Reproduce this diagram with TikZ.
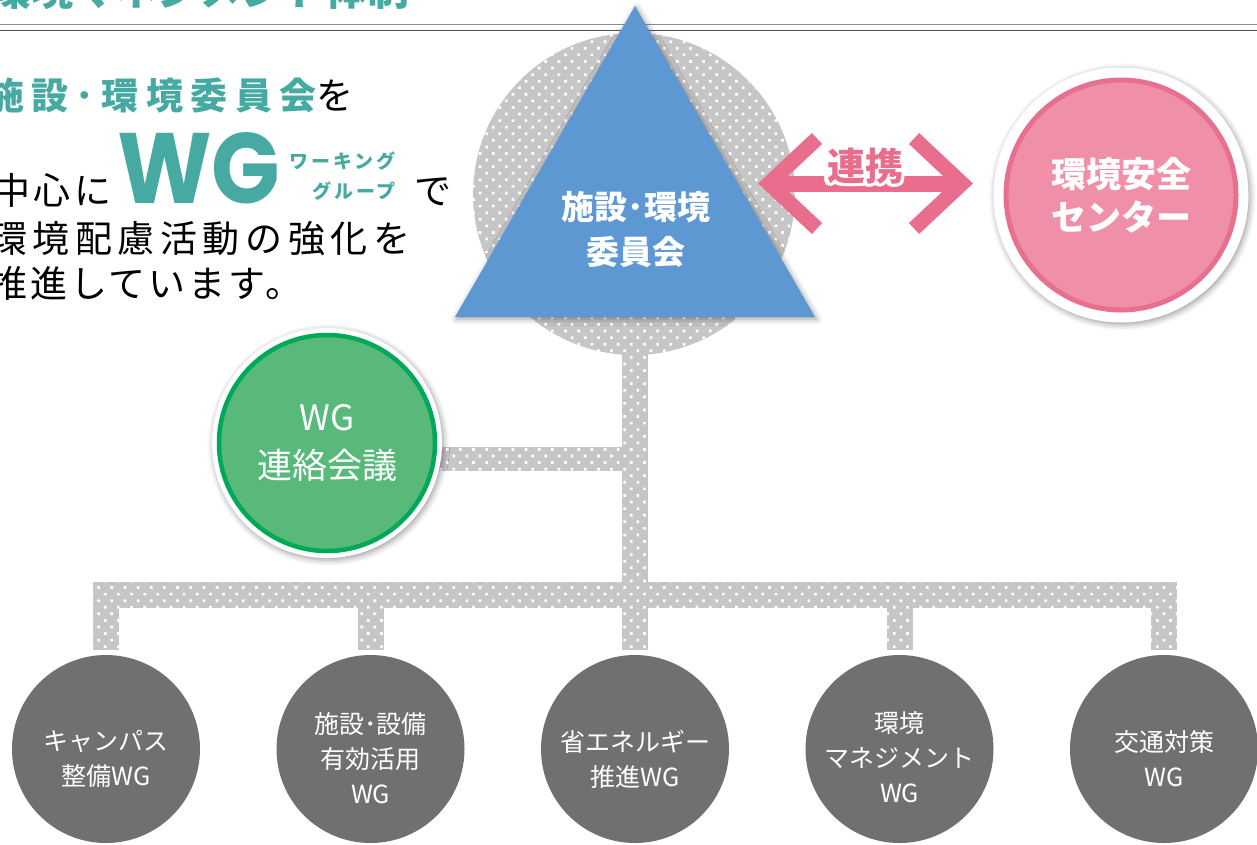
\documentclass[tikz,border=0pt]{standalone}
\usepackage{fontspec}
\usepackage{graphicx}
\setmainfont{Noto Sans CJK JP}
\newfontfamily\jpsp[LetterSpace=15]{Noto Sans CJK JP}
\newfontfamily\popf{Poppins}
\usetikzlibrary{calc,patterns.meta,shadows.blur}
\definecolor{tealc}{HTML}{46AAA2}
\definecolor{triblue}{HTML}{5E98D2}
\definecolor{pinkring}{HTML}{E8708F}
\definecolor{pinkfill}{HTML}{F090A8}
\definecolor{arrowpink}{HTML}{E96E8E}
\definecolor{greenring}{HTML}{00A85A}
\definecolor{greenfill}{HTML}{58B97A}
\definecolor{wggray}{HTML}{707070}
\definecolor{dotgray}{HTML}{C6C6C6}
\definecolor{lineA}{HTML}{8C8C8C}
\definecolor{lineB}{HTML}{505050}
\tikzset{
  dotfill/.style={fill=dotgray, postaction={pattern={Dots[radius=1.9pt,distance=9.3pt,angle=45]}, pattern color=white}},
  softshadow/.style={blur shadow={shadow xshift=1.5pt, shadow yshift=-2pt, shadow blur radius=6pt, shadow opacity=40}},
  wgcircle/.style={circle, fill=wggray, minimum size=188pt, inner sep=0pt},
  wgtext/.style={text=white, align=center, font=\fontsize{25}{35}\selectfont, inner sep=0pt},
  lefttext/.style={anchor=base west, inner sep=0pt, font=\jpsp\fontsize{37}{37}\selectfont},
  rkfont/.style={font=\bfseries\fontsize{38}{38}\selectfont, inner sep=0pt}
}
\begin{document}
\begin{tikzpicture}[x=1pt,y=-1pt]
\useasboundingbox (0,0) rectangle (1257,844);
\clip (0,0) rectangle (1257,844);

% header
\draw[lineA, line width=1.8pt] (0,24.5) -- (1257,24.5);
\draw[lineB, line width=1.4pt] (0,30.5) -- (1257,30.5);
\node[anchor=base west, inner sep=0pt, text=tealc, font=\bfseries\fontsize{42}{42}\selectfont] (title) at (-11,5) {環境マネジメント体制};

% coordinates
\coordinate (dc) at (634,194);
\coordinate (trunktop) at (635,330);
\coordinate (wgj) at (635,459);
\coordinate (hub) at (635,595);
\path (106,749) coordinate (p1) (370.5,749) coordinate (p2) (635,749) coordinate (p3)
      (899.5,749) coordinate (p4) (1164,749) coordinate (p5);

% dotted background & connectors
\fill[dotfill] (dc) circle (161);
\fill[dotfill] ($(trunktop)+(-13,0)$) rectangle ($(hub)+(13,13)$);
\fill[dotfill] ($(327,459)+(0,-12)$) rectangle ($(wgj)+(0,12)$);
\fill[dotfill] ($(p1|-hub)+(-13,-13)$) rectangle ($(p5|-hub)+(13,13)$);
\foreach \i in {1,...,5}{
  \fill[dotfill] ($(p\i|-hub)+(-13,0)$) rectangle ($(p\i)+(13,-99)$);
}

% triangle
\fill[triblue, softshadow] (635,6) -- (815,317) -- (455,317) -- cycle;
\node[text=white, align=center, inner sep=0pt, font=\bfseries\fontsize{33}{45}\selectfont] (comm) at (636,229) {施設･環境\\委員会};

% arrow
\coordinate (aL) at (769,183.5);
\coordinate (aR) at (962,183.5);
\draw[arrowpink, line width=16pt] (aL) -- (aR);
\draw[arrowpink, line width=15pt] ($(aL)+(48,-45)$) -- (aL) -- ($(aL)+(48,45)$);
\draw[arrowpink, line width=15pt] ($(aR)+(-48,-45)$) -- (aR) -- ($(aR)+(-48,45)$);
\foreach \a in {0,30,...,330}{
  \node[rkfont, text=white] (rkw\a) at ($(865,166)+(\a:3.5)$) {連携};
}
\node[rkfont, text=arrowpink] (rk) at (865,166) {連携};

% environment safety center
\node[circle, fill=white, minimum size=255pt, softshadow] (envc) at (1121,195) {};
\node[circle, draw=pinkring, line width=5pt, fill=pinkfill, minimum size=230pt, text=white,
      font=\bfseries\fontsize{35}{43}\selectfont, align=center, inner sep=0pt] (envin) at (envc) {環境安全\\センター};

% WG liaison meeting
\node[circle, fill=white, minimum size=230pt, softshadow] (wgo) at (327,443) {};
\node[circle, draw=greenring, line width=4.5pt, fill=greenfill, minimum size=216pt, text=white,
      font=\fontsize{35}{48}\selectfont, align=center, inner sep=0pt] (wg) at (wgo) {WG\\連絡会議};

% bottom WG circles
\node[wgcircle] (b1) at (p1) {};
\node[wgcircle] (b2) at (p2) {};
\node[wgcircle] (b3) at (p3) {};
\node[wgcircle] (b4) at (p4) {};
\node[wgcircle] (b5) at (p5) {};
\node[wgtext] (b1t) at ($(b1)+(0,10)$) {キャンパス\\整備WG};
\node[wgtext] (b2t) at ($(b2)+(0,9)$) {施設･設備\\有効活用\\WG};
\node[wgtext] (b3t) at ($(b3)+(0,10)$) {省エネルギー\\推進WG};
\node[wgtext] (b4t) at ($(b4)+(0,8)$) {環境\\マネジメント\\WG};
\node[wgtext] (b5t) at ($(b5)+(0,10)$) {交通対策\\WG};

% left text
\node[lefttext, text=tealc, font=\jpsp\addfontfeature{LetterSpace=20}\bfseries\fontsize{37}{37}\selectfont] (l1) at (-13,109) {施設･環境委員会\textcolor{black}{\mdseries を}};
\node[lefttext, font=\jpsp\addfontfeature{LetterSpace=10}\fontsize{37}{37}\selectfont] (l2) at (-7,204) {中心に};
\node[anchor=base west, inner sep=0pt, text=tealc, font=\popf\bfseries\fontsize{100}{100}\selectfont] (wgbig) at (117,203) {\scalebox{0.9}[1]{WG}};
\node[anchor=base east, inner sep=0pt, text=tealc, font=\jpsp\bfseries\fontsize{19}{19}\selectfont] (wk1) at (396,168) {ワーキング};
\node[anchor=base east, inner sep=0pt, text=tealc, font=\jpsp\bfseries\fontsize{19}{19}\selectfont] (wk2) at (396,198) {グループ};
\node[lefttext] (l2b) at (414,204) {で};
\node[lefttext] (l3) at (-10,252) {環境配慮活動の強化を};
\node[lefttext, font=\jpsp\addfontfeature{LetterSpace=8}\fontsize{37}{37}\selectfont] (l4) at (-10,297) {推進しています。};
\end{tikzpicture}
\end{document}
